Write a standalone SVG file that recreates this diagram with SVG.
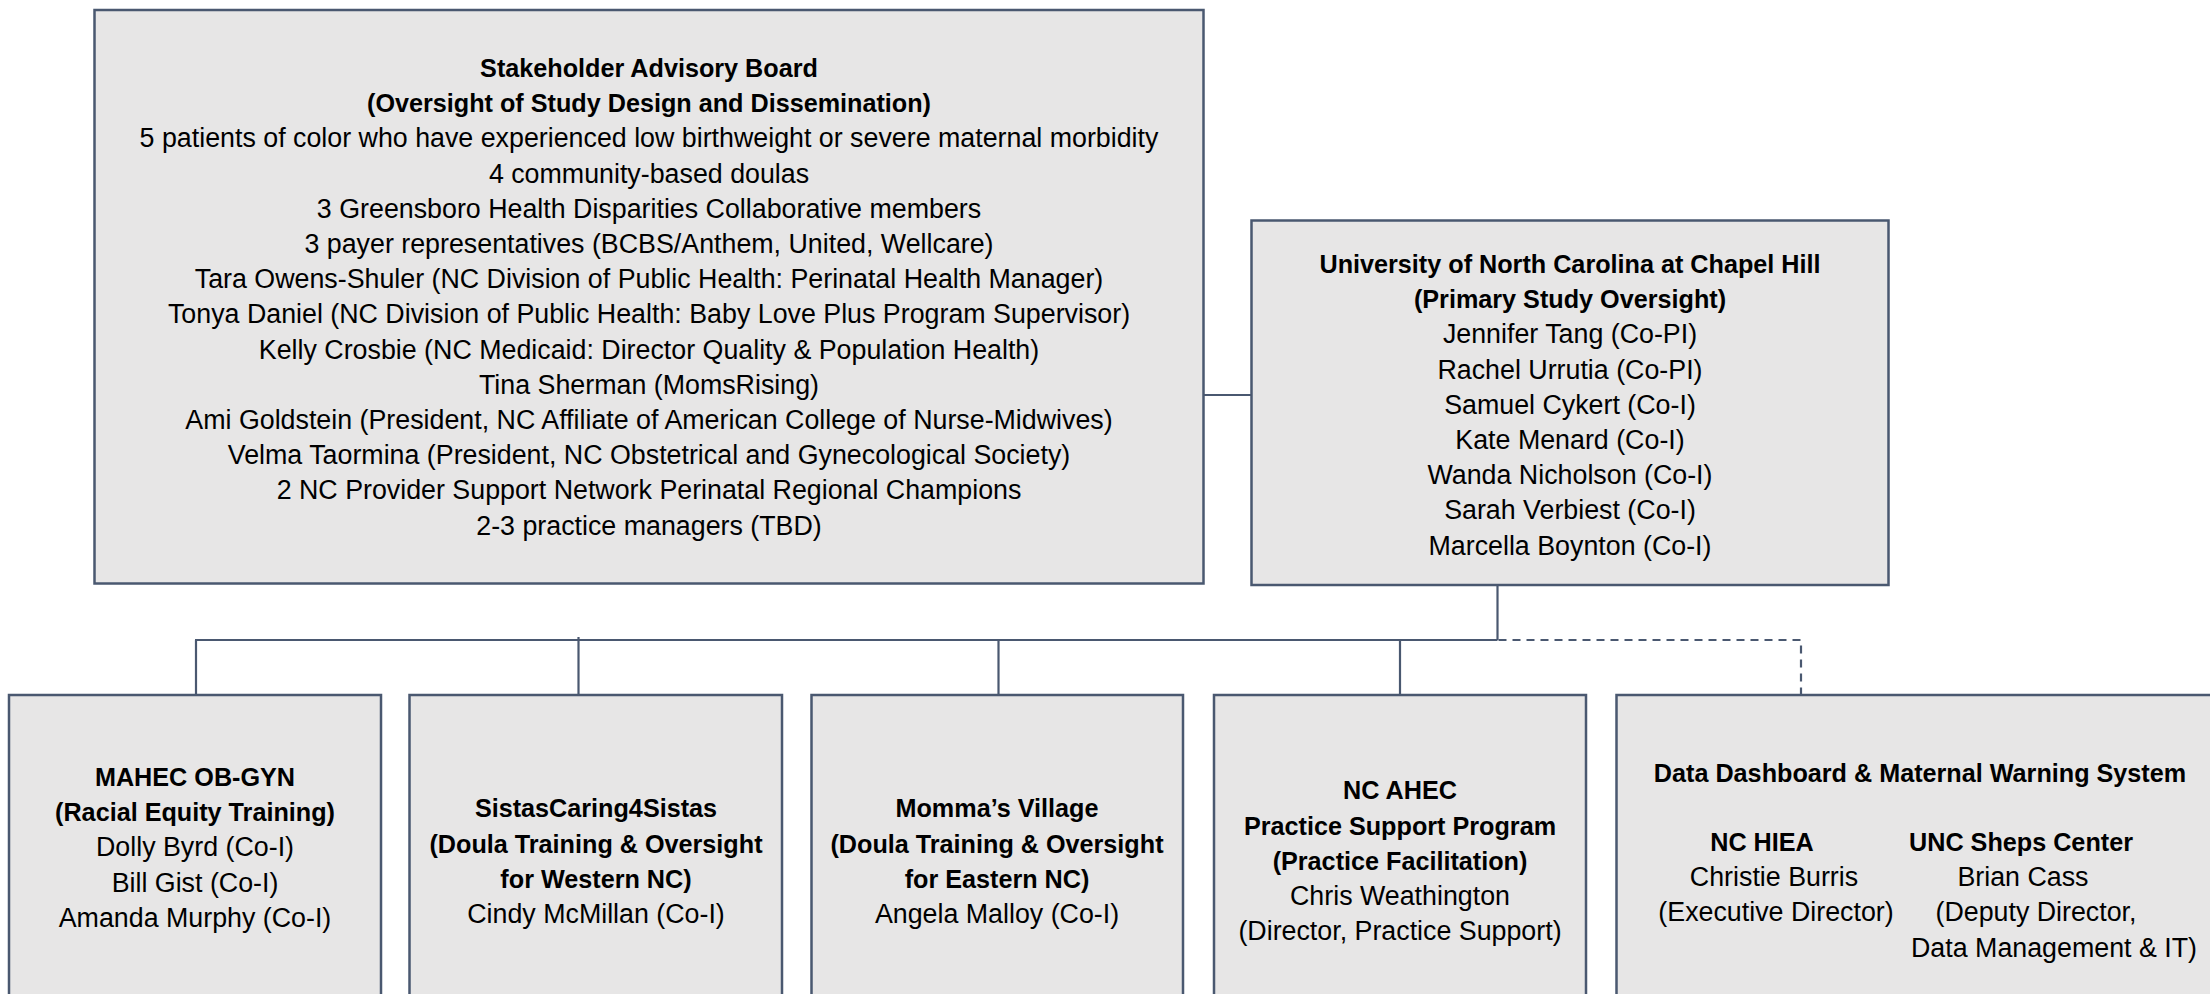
<svg xmlns="http://www.w3.org/2000/svg" width="2210" height="994" viewBox="0 0 2210 994">
<style>
.box{fill:#e7e6e6;stroke:#4a5870;stroke-width:2.5}
.ln{fill:none;stroke:#4a5870;stroke-width:2.2}
.dash{fill:none;stroke:#4a5870;stroke-width:2.2;stroke-dasharray:8 6}
text{font-family:"Liberation Sans",Arial,sans-serif;fill:#000;text-anchor:middle}
.r{font-size:26.8px}
.b{font-size:25.2px;font-weight:bold}
</style>
<rect width="2210" height="994" fill="#fff"/>
<g id="connectors">
<line class="ln" x1="1203.6" y1="395" x2="1251.5" y2="395"/>
<line class="ln" x1="1497.5" y1="585" x2="1497.5" y2="640"/>
<line class="ln" x1="195" y1="640" x2="1497.5" y2="640"/>
<line class="ln" x1="196" y1="640" x2="196" y2="695"/>
<line class="ln" x1="578.5" y1="637" x2="578.5" y2="695"/>
<line class="ln" x1="998.5" y1="640" x2="998.5" y2="695"/>
<line class="ln" x1="1400" y1="640" x2="1400" y2="695"/>
<polyline class="dash" points="1498.5,640 1801,640 1801,695"/>
</g>
<g id="advisory-board">
<rect class="box" x="94.5" y="10" width="1109" height="573.5"/>
<text x="649"><tspan class="b" x="649" y="77">Stakeholder Advisory Board</tspan><tspan class="b" x="649" y="112.2">(Oversight of Study Design and Dissemination)</tspan><tspan class="r" x="649" y="147.4">5 patients of color who have experienced low birthweight or severe maternal morbidity</tspan><tspan class="r" x="649" y="182.6">4 community-based doulas</tspan><tspan class="r" x="649" y="217.8">3 Greensboro Health Disparities Collaborative members</tspan><tspan class="r" x="649" y="253">3 payer representatives (BCBS/Anthem, United, Wellcare)</tspan><tspan class="r" x="649" y="288.2">Tara Owens-Shuler (NC Division of Public Health: Perinatal Health Manager)</tspan><tspan class="r" x="649" y="323.4">Tonya Daniel (NC Division of Public Health: Baby Love Plus Program Supervisor)</tspan><tspan class="r" x="649" y="358.6">Kelly Crosbie (NC Medicaid: Director Quality &amp; Population Health)</tspan><tspan class="r" x="649" y="393.8">Tina Sherman (MomsRising)</tspan><tspan class="r" x="649" y="429">Ami Goldstein (President, NC Affiliate of American College of Nurse-Midwives)</tspan><tspan class="r" x="649" y="464.2">Velma Taormina (President, NC Obstetrical and Gynecological Society)</tspan><tspan class="r" x="649" y="499.4">2 NC Provider Support Network Perinatal Regional Champions</tspan><tspan class="r" x="649" y="534.6">2-3 practice managers (TBD)</tspan></text>
</g>
<g id="unc">
<rect class="box" x="1251.5" y="220.5" width="637" height="364.5"/>
<text x="1570"><tspan class="b" x="1570" y="273">University of North Carolina at Chapel Hill</tspan><tspan class="b" x="1570" y="308.2">(Primary Study Oversight)</tspan><tspan class="r" x="1570" y="343.4">Jennifer Tang (Co-PI)</tspan><tspan class="r" x="1570" y="378.6">Rachel Urrutia (Co-PI)</tspan><tspan class="r" x="1570" y="413.8">Samuel Cykert (Co-I)</tspan><tspan class="r" x="1570" y="449">Kate Menard (Co-I)</tspan><tspan class="r" x="1570" y="484.2">Wanda Nicholson (Co-I)</tspan><tspan class="r" x="1570" y="519.4">Sarah Verbiest (Co-I)</tspan><tspan class="r" x="1570" y="554.6">Marcella Boynton (Co-I)</tspan></text>
</g>
<g id="mahec">
<rect class="box" x="9" y="695" width="372" height="320"/>
<text x="195"><tspan class="b" x="195" y="786">MAHEC OB-GYN</tspan><tspan class="b" x="195" y="821.2">(Racial Equity Training)</tspan><tspan class="r" x="195" y="856.4">Dolly Byrd (Co-I)</tspan><tspan class="r" x="195" y="891.6">Bill Gist (Co-I)</tspan><tspan class="r" x="195" y="926.8">Amanda Murphy (Co-I)</tspan></text>
</g>
<g id="sistas">
<rect class="box" x="409.5" y="695" width="372.5" height="320"/>
<text x="596"><tspan class="b" x="596" y="817.3">SistasCaring4Sistas</tspan><tspan class="b" x="596" y="852.5">(Doula Training &amp; Oversight</tspan><tspan class="b" x="596" y="887.7">for Western NC)</tspan><tspan class="r" x="596" y="922.9">Cindy McMillan (Co-I)</tspan></text>
</g>
<g id="mommas-village">
<rect class="box" x="811.5" y="695" width="371.5" height="320"/>
<text x="997"><tspan class="b" x="997" y="817.3">Momma’s Village</tspan><tspan class="b" x="997" y="852.5">(Doula Training &amp; Oversight</tspan><tspan class="b" x="997" y="887.7">for Eastern NC)</tspan><tspan class="r" x="997" y="922.9">Angela Malloy (Co-I)</tspan></text>
</g>
<g id="nc-ahec">
<rect class="box" x="1214" y="695" width="372" height="320"/>
<text x="1400"><tspan class="b" x="1400" y="799.3">NC AHEC</tspan><tspan class="b" x="1400" y="834.5">Practice Support Program</tspan><tspan class="b" x="1400" y="869.7">(Practice Facilitation)</tspan><tspan class="r" x="1400" y="904.9">Chris Weathington</tspan><tspan class="r" x="1400" y="940.1">(Director, Practice Support)</tspan></text>
</g>
<g id="data-dashboard">
<rect class="box" x="1616.5" y="695" width="620" height="320"/>
<text class="b" x="1920" y="782">Data Dashboard &amp; Maternal Warning System</text>
<text x="1775"><tspan class="b" x="1762" y="851">NC HIEA</tspan><tspan class="r" x="1774" y="886.2">Christie Burris</tspan><tspan class="r" x="1776" y="921.4">(Executive Director)</tspan></text>
<text x="2030"><tspan class="b" x="2021" y="851">UNC Sheps Center</tspan><tspan class="r" x="2023" y="886.2">Brian Cass</tspan><tspan class="r" x="2036" y="921.4">(Deputy Director,</tspan><tspan class="r" x="2054" y="956.6">Data Management &amp; IT)</tspan></text>
</g>
</svg>
